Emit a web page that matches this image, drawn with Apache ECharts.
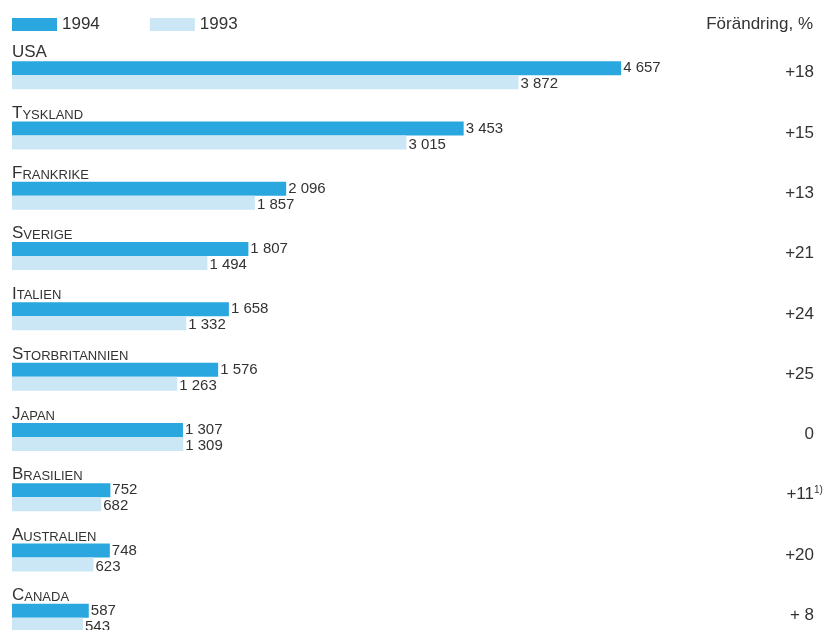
<!DOCTYPE html>
<html>
<head>
<meta charset="utf-8">
<script src="https://cdn.jsdelivr.net/npm/echarts@6/dist/echarts.min.js"></script>
<style>
  html, body { margin: 0; padding: 0; background: #fff; }
  #chart { width: 824px; height: 630px; }
</style>
</head>
<body>
<div id="chart"></div>
<script>
// länder, uppifrån och ned
const countries = ["USA", "Tyskland", "Frankrike", "Sverige", "Italien",
  "Storbritannien", "Japan", "Brasilien", "Australien", "Canada"];
const values1994 = [4657, 3453, 2096, 1807, 1658, 1576, 1307, 752, 748, 587];
const values1993 = [3872, 3015, 1857, 1494, 1332, 1263, 1309, 682, 623, 543];
// förändring i procent, med fotnot
const changes = ["+18", "+15", "+13", "+21", "+24", "+25", "0", "+11", "+20", "+ 8"];
const notes = ["", "", "", "", "", "", "", "1)", "", ""];

const dark = "#29a7de";
const light = "#cbe7f6";
const textColor = "#333";
const font = "Liberation Sans";

function fmt(v) {
  if (v < 1000) return String(v);
  let rest = String(v % 1000);
  while (rest.length < 3) rest = "0" + rest;
  return Math.floor(v / 1000) + " " + rest;
}

const chart = echarts.init(document.getElementById("chart"));
const option = {
  animation: false,
  textStyle: { fontFamily: font, color: textColor },
  title: {
    text: "Förändring, %",
    right: 11,
    top: 16,
    padding: 0,
    textStyle: { fontSize: 17, fontWeight: "normal", color: textColor, fontFamily: font }
  },
  legend: {
    data: ["1994", "1993"],
    left: 12,
    top: 16,
    padding: 0,
    icon: "rect",
    itemWidth: 45,
    itemHeight: 13,
    itemGap: 50,
    textStyle: { fontSize: 17, color: textColor, fontFamily: font }
  },
  grid: {
    left: 12,
    right: 1,
    top: 45,
    height: 603,
    outerBoundsMode: "none"
  },
  xAxis: {
    type: "value",
    min: 0,
    max: 6200,
    show: false
  },
  yAxis: [
    {
      type: "category",
      data: countries,
      inverse: true,
      axisLine: { show: false },
      axisTick: { show: false },
      axisLabel: {
        inside: true,
        margin: 0,
        verticalAlign: "bottom",
        padding: [0, 0, 14, 0],
        formatter: function (name) {
          if (name === name.toUpperCase()) return "{a|" + name + "}";
          return "{a|" + name[0] + "}{b|" + name.slice(1).toUpperCase() + "}";
        },
        rich: {
          a: { fontSize: 17, lineHeight: 17, verticalAlign: "bottom", color: textColor, fontFamily: font },
          b: { fontSize: 13, lineHeight: 13, verticalAlign: "bottom", color: textColor, fontFamily: font }
        }
      }
    },
    {
      type: "category",
      position: "right",
      data: changes,
      inverse: true,
      axisLine: { show: false },
      axisTick: { show: false },
      axisLabel: {
        inside: true,
        margin: 0,
        padding: [0, 0, 6, 0],
        formatter: function (value, index) {
          return "{n|" + value + "}{s|" + (notes[index] || " ") + "}";
        },
        rich: {
          n: { fontSize: 17, lineHeight: 18, verticalAlign: "bottom", color: textColor, fontFamily: font },
          s: { fontSize: 10, lineHeight: 12, width: 9, align: "left", verticalAlign: "top", color: textColor, fontFamily: font }
        }
      }
    }
  ],
  series: [
    {
      name: "1994",
      type: "bar",
      data: values1994,
      barWidth: 14,
      barGap: "0%",
      itemStyle: { color: dark },
      label: {
        show: true,
        position: "right",
        distance: 2,
        fontSize: 15,
        color: textColor,
        fontFamily: font,
        formatter: function (p) { return fmt(p.value); }
      }
    },
    {
      name: "1993",
      type: "bar",
      data: values1993,
      barWidth: 14,
      itemStyle: { color: light },
      label: {
        show: true,
        position: "right",
        distance: 2,
        offset: [0, 2],
        fontSize: 15,
        color: textColor,
        fontFamily: font,
        formatter: function (p) { return fmt(p.value); }
      }
    }
  ]
};
chart.setOption(option);
</script>
</body>
</html>
